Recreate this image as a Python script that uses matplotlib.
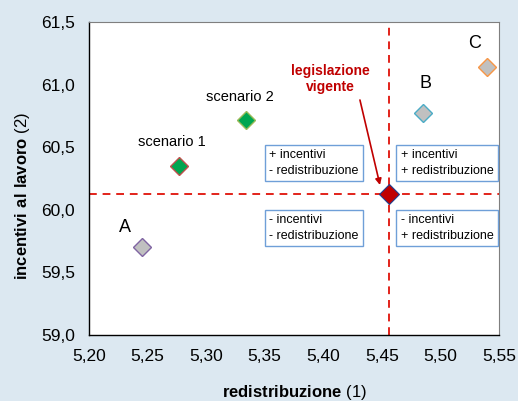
import matplotlib
matplotlib.use('Agg')
from matplotlib import pyplot as plt
from matplotlib.ticker import FuncFormatter

plt.rcParams['font.family'] = ['Liberation Sans', 'DejaVu Sans']
plt.rcParams['mathtext.fontset'] = 'custom'
plt.rcParams['mathtext.rm'] = 'Liberation Sans'
plt.rcParams['mathtext.bf'] = 'Liberation Sans:bold'

# data
names = ['A', 'scenario 1', 'scenario 2', 'B', 'C']
redistribuzione = [5.245, 5.277, 5.334, 5.485, 5.540]
incentivi = [59.70, 60.35, 60.72, 60.77, 61.14]
fill_colors = ['#c0c0c0', '#00a650', '#00a650', '#c0c0c0', '#c0c0c0']
edge_colors = ['#8064a2', '#c0504d', '#9bbb59', '#4bacc6', '#f79646']

vigente_x = 5.456
vigente_y = 60.13

x_ticks = [5.20, 5.25, 5.30, 5.35, 5.40, 5.45, 5.50, 5.55]
y_ticks = [59.0, 59.5, 60.0, 60.5, 61.0, 61.5]

bg = '#dce8f1'
red = '#e2231a'

fig = plt.figure(figsize=(5.18, 4.01), dpi=100, facecolor=bg)
ax = fig.add_axes([0.1718, 0.1646, 0.7915, 0.7805])

# dashed reference lines through the current legislation
ax.axvline(vigente_x, color=red, lw=1.4, ls=(0, (4, 3)), zorder=1)
ax.axhline(vigente_y, color=red, lw=1.4, ls=(0, (4, 3)), zorder=1)

for xi, yi, fc, ec in zip(redistribuzione, incentivi, fill_colors, edge_colors):
    ax.plot(xi, yi, marker='D', ms=9.5, mfc=fc, mec=ec, mew=1.0, ls='none', zorder=3)
ax.plot(vigente_x, vigente_y, marker='D', ms=10.5, mfc='#c00000', mec='#1f3f8f',
        mew=0.8, ls='none', zorder=3)

# point labels
label_pos = {'A': (5.231, 59.86), 'scenario 1': (5.271, 60.54),
             'scenario 2': (5.329, 60.90), 'B': (5.487, 61.01), 'C': (5.529, 61.33)}
for n in names:
    fs = 13 if len(n) == 1 else 10.5
    ax.text(label_pos[n][0], label_pos[n][1], n, ha='center', va='center', fontsize=fs)

ax.text(5.4057, 61.045, 'legislazione\nvigente', ha='center', va='center',
        fontsize=10, fontweight='bold', color='#c00000', linespacing=1.2)
ax.annotate('', xy=(5.4484, 60.198), xytext=(5.4313, 60.877),
            arrowprops=dict(arrowstyle='-|>', color='#c00000', lw=1.2,
                            mutation_scale=9, shrinkA=0, shrinkB=0))

# quadrant boxes
box = dict(boxstyle='square,pad=0.35', fc='white', ec='#6f9fd8', lw=1)
quadrants = [(5.354, 60.374, '+ incentivi\n- redistribuzione'),
             (5.466, 60.374, '+ incentivi\n+ redistribuzione'),
             (5.354, 59.855, '- incentivi\n- redistribuzione'),
             (5.466, 59.855, '- incentivi\n+ redistribuzione')]
for qx, qy, qt in quadrants:
    ax.text(qx, qy, qt, ha='left', va='center', fontsize=9, bbox=box,
            linespacing=1.45, zorder=4)

ax.set_xlim(5.20, 5.55)
ax.set_ylim(59.0, 61.5)
ax.set_xticks(x_ticks)
ax.set_yticks(y_ticks)
ax.xaxis.set_major_formatter(FuncFormatter(lambda v, p: f'{v:.2f}'.replace('.', ',')))
ax.yaxis.set_major_formatter(FuncFormatter(lambda v, p: f'{v:.1f}'.replace('.', ',')))
ax.tick_params(length=0, labelsize=12.5, pad=10)
ax.tick_params(axis='x', pad=10)

for side in ['left', 'bottom']:
    ax.spines[side].set_color('black')
    ax.spines[side].set_linewidth(1.0)
for side in ['top', 'right']:
    ax.spines[side].set_color('#7f7f7f')
    ax.spines[side].set_linewidth(0.8)

fig.text(0.569, 0.022, r'$\bf{redistribuzione}$ (1)', ha='center', va='center',
         fontsize=12)
fig.text(0.043, 0.511, r'$\bf{incentivi\ al\ lavoro}$ (2)', ha='center', va='center',
         rotation=90, fontsize=12)

fig.savefig('out.png', dpi=100, facecolor=bg)
